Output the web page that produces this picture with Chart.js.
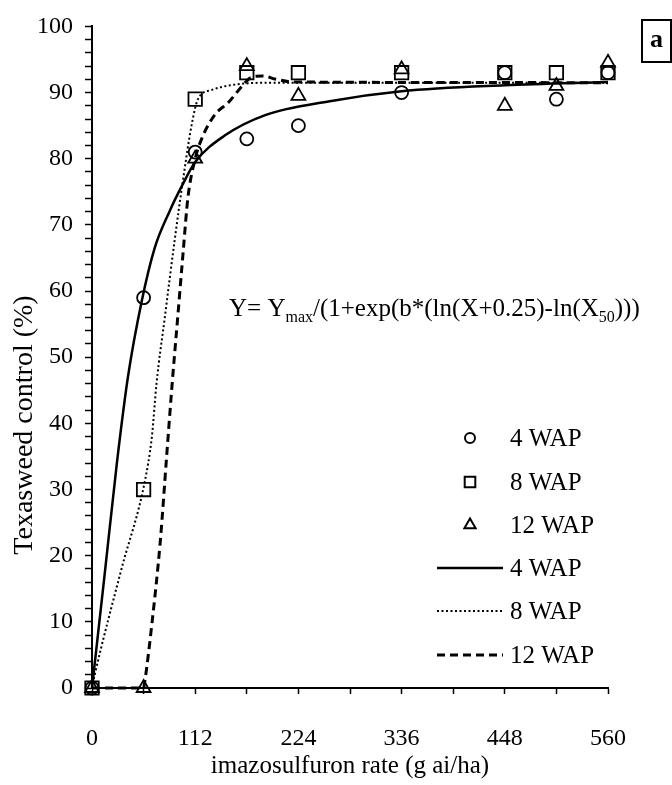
<!DOCTYPE html>
<html>
<head>
<meta charset="utf-8">
<script src="https://cdn.jsdelivr.net/npm/chart.js@4.4.1/dist/chart.umd.min.js"></script>
<style>
  body { margin: 0; background: #fff; }
  #wrap { width: 672px; height: 785px; }
</style>
</head>
<body>
<div id="wrap"><canvas id="canvas-1"></canvas></div>
<script>
// observed control (%) at each rate
const rates = [0, 56, 112, 168, 224, 336, 448, 504, 560]
const wap4Obs = [0, 59, 81, 83, 85, 90, 93, 89, 93]
const wap8Obs = [0, 30, 89, 93, 93, 93, 93, 93, 93]
const wap12Obs = [0, 0, 80, 94, 89.5, 93.5, 88, 91, 94.5]

// fitted curves
const fit4X = [0, 14, 27, 39, 54, 68, 84, 98, 112, 144, 188, 258, 336, 448, 560]
const fit4Y = [0, 17.5, 34, 47, 58.5, 66.5, 72, 76, 79.5, 83.5, 86.6, 88.7, 90.2, 91.1, 91.6]
const fit8X = [0, 3, 32, 57, 65, 70, 79, 90, 99, 108, 115, 130, 155, 200, 560]
const fit8Y = [0, 2, 18, 31, 38, 46, 56, 68, 77, 85, 89, 90.4, 91.2, 91.5, 91.5]
const fit12X = [0, 56, 57, 65, 74, 81, 87, 93, 99, 104, 112, 119, 133, 148, 163, 173, 185, 200, 218, 560]
const fit12Y = [0, 0, 0.7, 9.7, 22, 35, 46, 56, 66, 74, 80, 83, 86.6, 88.5, 91, 92.3, 92.5, 92, 91.6, 91.5]

const seriesNames = ['4 WAP', '8 WAP', '12 WAP']
const xLabelTicks = [0, 112, 224, 336, 448, 560]

const serif = 'Liberation Serif'
const pts = (xs, ys) => xs.map((x, i) => ({x: x, y: ys[i]}))

const markerSet = (label, ys, style, r) => ({
  label: label,
  data: pts(rates, ys),
  showLine: false,
  pointStyle: style,
  pointRadius: r,
  pointHoverRadius: r,
  pointBorderWidth: 1.8,
  pointBorderColor: '#000',
  pointBackgroundColor: 'rgba(0,0,0,0)',
  kind: 'marker',
  clip: false
})

const curveSet = (label, xs, ys, width, dash) => ({
  label: label,
  data: pts(xs, ys),
  showLine: true,
  borderColor: '#000',
  borderWidth: width,
  borderDash: dash,
  pointRadius: 0,
  cubicInterpolationMode: 'monotone',
  kind: 'curve',
  clip: false
})

// legend, equation, y title and panel letter
const extras = {
  id: 'extras',
  afterDraw(chart) {
    const ctx = chart.ctx
    ctx.save()
    ctx.strokeStyle = '#000'
    ctx.textBaseline = 'middle'
    ctx.textAlign = 'left'
    const rows = [438, 482, 525, 568, 611, 655]
    chart.data.datasets.forEach((ds, i) => {
      const y = rows[i]
      if (ds.kind === 'marker') {
        const r = ds.pointStyle === 'circle' ? 5 : ds.pointStyle === 'rect' ? 7.5 : 6.5
        ctx.fillStyle = 'rgba(0,0,0,0)'
        ctx.lineWidth = 2
        Chart.helpers.drawPoint(ctx, {pointStyle: ds.pointStyle, radius: r, rotation: 0, borderWidth: 2}, 470, y)
      } else {
        ctx.beginPath()
        ctx.lineWidth = ds.borderWidth
        ctx.setLineDash(ds.borderDash)
        ctx.moveTo(437, y)
        ctx.lineTo(503, y)
        ctx.stroke()
        ctx.setLineDash([])
      }
      ctx.fillStyle = '#000'
      ctx.font = '25px "' + serif + '"'
      ctx.fillText(ds.label, 510, y + 1)
    })

    // y axis title, sits below the middle of the axis in the original
    ctx.save()
    ctx.translate(25, 425)
    ctx.rotate(-Math.PI / 2)
    ctx.textAlign = 'center'
    ctx.font = '28px "' + serif + '"'
    ctx.fillText('Texasweed control (%)', 0, 0)
    ctx.restore()

    // equation
    ctx.fillStyle = '#000'
    ctx.textBaseline = 'alphabetic'
    let x = 229
    const base = 316
    const part = (t, size, dy) => {
      ctx.font = size + 'px "' + serif + '"'
      ctx.fillText(t, x, base + dy)
      x += ctx.measureText(t).width
    }
    part('Y= Y', 25, 0)
    part('max', 16, 6)
    part('/(1+exp(b*(ln(X+0.25)-ln(X', 25, 0)
    part('50', 16, 6)
    part(')))', 25, 0)

    // panel letter
    ctx.lineWidth = 2
    ctx.strokeRect(642, 20, 29, 42)
    ctx.font = 'bold 26px "' + serif + '"'
    ctx.textAlign = 'center'
    ctx.textBaseline = 'middle'
    ctx.fillText('a', 656.5, 40)
    ctx.restore()
  }
}

const tickFont = {family: serif, size: 24}

new Chart(document.getElementById('canvas-1'), {
  type: 'scatter',
  data: {
    datasets: [
      markerSet(seriesNames[0], wap4Obs, 'circle', 6.5),
      markerSet(seriesNames[1], wap8Obs, 'rect', 9.5),
      markerSet(seriesNames[2], wap12Obs, 'triangle', 8),
      curveSet(seriesNames[0], fit4X, fit4Y, 2.5, []),
      curveSet(seriesNames[1], fit8X, fit8Y, 2, [2, 2.5]),
      curveSet(seriesNames[2], fit12X, fit12Y, 3, [8, 5])
    ]
  },
  options: {
    responsive: true,
    maintainAspectRatio: false,
    animation: false,
    layout: { padding: {top: 18, right: 64, left: 0, bottom: 0} },
    plugins: { legend: {display: false}, tooltip: {enabled: false} },
    scales: {
      x: {
        type: 'linear', min: 0, max: 560,
        ticks: {
          stepSize: 56, autoSkip: false, maxRotation: 0, padding: 30,
          color: '#000', font: tickFont,
          callback: v => xLabelTicks.includes(v) ? v : ''
        },
        grid: {drawOnChartArea: false, tickLength: 6, tickColor: '#000', tickWidth: 1.5},
        border: {color: '#000', width: 2},
        title: {display: true, text: 'imazosulfuron rate (g ai/ha)', color: '#000',
                font: {family: serif, size: 25}, padding: {top: 0, bottom: 4}},
        afterFit: s => { s.height = 97 }
      },
      y: {
        min: 0, max: 100,
        ticks: {
          stepSize: 2, autoSkip: false, padding: 12,
          color: '#000', font: tickFont,
          callback: v => v % 10 === 0 ? v : ''
        },
        grid: {drawOnChartArea: false, tickLength: 7, tickColor: '#000', tickWidth: 1.5},
        border: {color: '#000', width: 2},
        afterFit: s => { s.width = 92 }
      }
    }
  },
  plugins: [extras]
})
</script>
</body>
</html>
